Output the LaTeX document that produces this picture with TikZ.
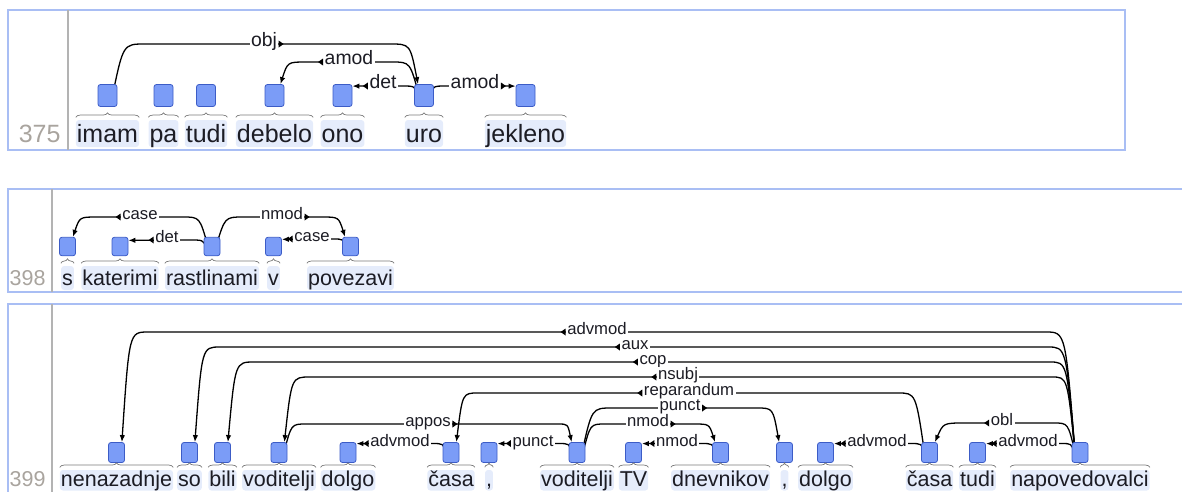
\documentclass[tikz,border=0pt]{standalone}
\usepackage{fontspec}
\setmainfont{Liberation Sans}
\usetikzlibrary{arrows.meta,calc,decorations.pathreplacing}
\pgfdeclarelayer{bg}
\pgfsetlayers{bg,main}
\definecolor{panelblue}{HTML}{A9BEF4}
\definecolor{sepgray}{HTML}{B3B3B3}
\definecolor{numgray}{HTML}{A9A49E}
\definecolor{tokfill}{HTML}{7B9CF7}
\definecolor{tokdraw}{HTML}{3C5CC6}
\definecolor{wordbg}{HTML}{E5ECFB}
\definecolor{bracegray}{HTML}{7A7A7A}
\definecolor{wordcol}{HTML}{1C1C24}
\newcommand\fontWA{\fontsize{25}{30}\selectfont}
\newcommand\fontWB{\fontsize{21.5}{26}\selectfont}
\newcommand\fontLA{\fontsize{19.4}{23}\selectfont}
\newcommand\fontLB{\fontsize{16.7}{20}\selectfont}
\newcommand\tokword[6]{%
  \node[word#5] (w#1) at (#2,#4) {#6};
  \node[tok#5] (#1) at (#2,#3) {};
  \draw[brc] ([yshift=2.5pt]w#1.north west) -- ([yshift=2.5pt]w#1.north east);
}
\newcommand\longarc[5]{%
  \draw[arc] let \p1=#1, \p2=#5 in (\p1) .. controls ({\x1+0.33*(#2pt-\x1)},-#3pt) .. (#2,#3) -- (#4,#3) .. controls ({\x2+0.28*(#4pt-\x2)},-#3pt) .. (\p2);
}
\newcommand\flatarc[4]{%
  \draw[arc] let \p1=#1 in (\p1) .. controls ({\x1+0.2*(#2pt-\x1)},-#3pt) .. (#2,#3) -- #4;
}
\newcommand\labL[5]{%
  \node[#1] (#2) at (#3,#4) {#5};
  \fill ([xshift=-5pt]#2.mid west) -- ([yshift=3.5pt]#2.mid west) -- ([yshift=-3.5pt]#2.mid west) -- cycle;
}
\newcommand\labR[5]{%
  \node[#1] (#2) at (#3,#4) {#5};
  \fill ([xshift=5pt]#2.mid east) -- ([yshift=3.5pt]#2.mid east) -- ([yshift=-3.5pt]#2.mid east) -- cycle;
}
\begin{document}
\begin{tikzpicture}[x=1pt,y=-1pt,
 panel/.style={draw=panelblue,line width=1.3pt},
 sep/.style={draw=sepgray,line width=2pt},
 wordA/.style={anchor=base,fill=wordbg,rounded corners=3pt,inner xsep=1pt,inner ysep=1pt,text height=21pt,text depth=4pt,font=\fontWA,text=wordcol},
 wordB/.style={wordA,text height=18pt,text depth=4pt,font=\fontWB},
 wordC/.style={wordB,text height=15.5pt,text depth=3pt},
 tokA/.style={draw=tokdraw,fill=tokfill,rounded corners=2.5pt,line width=0.8pt,minimum width=19pt,minimum height=22pt,inner sep=0pt},
 tokB/.style={tokA,minimum width=16pt,minimum height=18.5pt},
 tokC/.style={tokA,minimum width=16pt,minimum height=20pt},
 brc/.style={draw=bracegray,line width=0.7pt,decorate,decoration={brace,amplitude=4.5pt}},
 arc/.style={draw=black,line width=1.3pt,-{Latex[length=7pt,width=5.5pt]}},
 labA/.style={fill=white,inner xsep=1.5pt,inner ysep=0.5pt,anchor=mid,font=\fontLA,text=wordcol},
 labB/.style={labA,font=\fontLB},
 numA/.style={anchor=base east,text=numgray,font=\fontWA},
 numB/.style={numA,font=\fontWB}]
\useasboundingbox (0,0) rectangle (1182,491);
\clip (0,0) rectangle (1182,491);

% ---------- panel 375 ----------
\draw[panel] (8,10) rectangle (1125,150);
\draw[sep] (68,10) -- (68,150);
\node[numA] (n375) at (64,142) {375};
\tokword{imam}{107.5}{95.5}{142}{A}{imam}
\tokword{pa}{163.5}{95.5}{142}{A}{pa}
\tokword{tudi}{206}{95.5}{142}{A}{tudi}
\tokword{debelo}{274.5}{95.5}{142}{A}{debelo}
\tokword{ono}{342.5}{95.5}{142}{A}{ono}
\tokword{uro}{424}{95.5}{142}{A}{uro}
\tokword{jekleno}{525.5}{95.5}{142}{A}{jekleno}

% ---------- panel 398 ----------
\draw[panel] (8,189) rectangle (1195,292);
\draw[sep] (52,189) -- (52,292);
\node[numB] (n398) at (49,285) {398};
\tokword{s}{67.5}{246.5}{285}{B}{s}
\tokword{katerimi}{120}{246.5}{285}{B}{katerimi}
\tokword{rastl}{212}{246.5}{285}{B}{rastlinami}
\tokword{v}{273.5}{246.5}{285}{B}{v}
\tokword{povez}{350.5}{246.5}{285}{B}{povezavi}

% ---------- panel 399 ----------
\draw[panel] (8,304) rectangle (1195,500);
\draw[sep] (52,304) -- (52,500);
\node[numB] (n399) at (49,486.5) {399};
\tokword{nenaz}{116.5}{452.5}{486.5}{C}{nenazadnje}
\tokword{so}{189.5}{452.5}{486.5}{C}{so}
\tokword{bili}{222.5}{452.5}{486.5}{C}{bili}
\tokword{vodA}{279}{452.5}{486.5}{C}{voditelji}
\tokword{dolgoA}{348}{452.5}{486.5}{C}{dolgo}
\tokword{casaA}{451}{452.5}{486.5}{C}{časa}
\tokword{commaA}{489}{452.5}{486.5}{C}{,}
\tokword{vodB}{577}{452.5}{486.5}{C}{voditelji}
\tokword{tv}{633.5}{452.5}{486.5}{C}{TV}
\tokword{dnev}{720.5}{452.5}{486.5}{C}{dnevnikov}
\tokword{commaB}{784.5}{452.5}{486.5}{C}{,}
\tokword{dolgoB}{825.5}{452.5}{486.5}{C}{dolgo}
\tokword{casaB}{929.5}{452.5}{486.5}{C}{časa}
\tokword{tudiC}{977.5}{452.5}{486.5}{C}{tudi}
\tokword{napov}{1080}{452.5}{486.5}{C}{napovedovalci}

% ---------- arcs ----------
\begin{pgfonlayer}{bg}
% 375
\longarc{([xshift=5pt]imam.center)}{145}{44}{390}{([xshift=-6pt]uro.north)}
\longarc{([xshift=-5pt]uro.center)}{392}{62}{306}{([xshift=-4pt]debelo.north east)}
\flatarc{([xshift=-6pt]uro.center)}{402}{86}{([yshift=-2pt]ono.north east)}
\flatarc{([xshift=6pt]uro.center)}{446}{86}{([yshift=-2pt]jekleno.north west)}
% 398
\longarc{([xshift=-4pt]rastl.center)}{183}{217}{97}{([xshift=-3pt]s.north east)}
\flatarc{([xshift=-6pt]rastl.center)}{190}{240}{([yshift=-3.5pt]katerimi.north east)}
\longarc{([xshift=4pt]rastl.center)}{243}{217}{322}{([xshift=3pt]povez.north west)}
\flatarc{([xshift=-5pt]povez.center)}{333}{239}{([yshift=-2.5pt]v.north east)}
% 399
\longarc{([xshift=-5pt]napov.center)}{1046}{332}{148}{([xshift=-3pt]nenaz.north east)}
\longarc{([xshift=-5pt]napov.center)}{1048}{347}{220}{([xshift=-3pt]so.north east)}
\longarc{([xshift=-5pt]napov.center)}{1050}{362}{254}{([xshift=-3pt]bili.north east)}
\longarc{([xshift=-5pt]napov.center)}{1052}{377}{310}{([xshift=-3pt]vodA.north east)}
\longarc{([xshift=-5pt]casaB.center)}{898}{393}{478}{([xshift=-3pt]casaA.north east)}
\longarc{([xshift=5pt]vodB.center)}{612}{408}{757}{([xshift=3pt]commaB.north west)}
\longarc{([xshift=6pt]vodB.center)}{605}{424}{694}{([xshift=3pt]dnev.north west)}
\longarc{([xshift=5pt]vodA.center)}{306}{424}{558}{([xshift=3pt]vodB.north west)}
\flatarc{([xshift=-5pt]casaA.center)}{432}{443.5}{([yshift=-1.5pt]dolgoA.north east)}
\flatarc{([xshift=-5pt]vodB.center)}{558}{443.5}{([yshift=-1.5pt]commaA.north east)}
\flatarc{([xshift=-5pt]dnev.center)}{701}{443.5}{([yshift=-1.5pt]tv.north east)}
\flatarc{([xshift=-5pt]casaB.center)}{910}{443.5}{([yshift=-1.5pt]dolgoB.north east)}
\longarc{([xshift=-5pt]napov.center)}{1054}{423}{965}{([xshift=-3pt]casaB.north east)}
\flatarc{([xshift=-6pt]napov.center)}{1061}{443.5}{([yshift=-1.5pt]tudiC.north east)}
\end{pgfonlayer}

% ---------- labels ----------
\labR{labA}{lobj}{264}{44}{obj}
\labL{labA}{lamodA}{349}{62}{amod}
\labL{labA}{ldet}{383}{86}{det}
\labR{labA}{lamodB}{475}{86}{amod}

\labL{labB}{lcaseA}{140}{217}{case}
\labL{labB}{ldetB}{167}{240}{det}
\labR{labB}{lnmodA}{282}{217}{nmod}
\labL{labB}{lcaseB}{312}{239}{case}

\labL{labB}{ladv1}{597}{332}{advmod}
\labL{labB}{laux}{635}{347}{aux}
\labL{labB}{lcop}{653}{362}{cop}
\labL{labB}{lnsubj}{678}{377}{nsubj}
\labL{labB}{lrep}{689}{393}{reparandum}
\labR{labB}{lpunct1}{680}{408}{punct}
\labR{labB}{lnmod1}{648}{424}{nmod}
\labR{labB}{lappos}{428}{424}{appos}
\labL{labB}{ladv2}{400}{443.5}{advmod}
\labL{labB}{lpunct2}{533}{443.5}{punct}
\labL{labB}{lnmod2}{677}{443.5}{nmod}
\labL{labB}{ladv3}{877}{443.5}{advmod}
\labL{labB}{lobl}{1002}{423}{obl}
\labL{labB}{ladv4}{1028}{443.5}{advmod}
\end{tikzpicture}
\end{document}
